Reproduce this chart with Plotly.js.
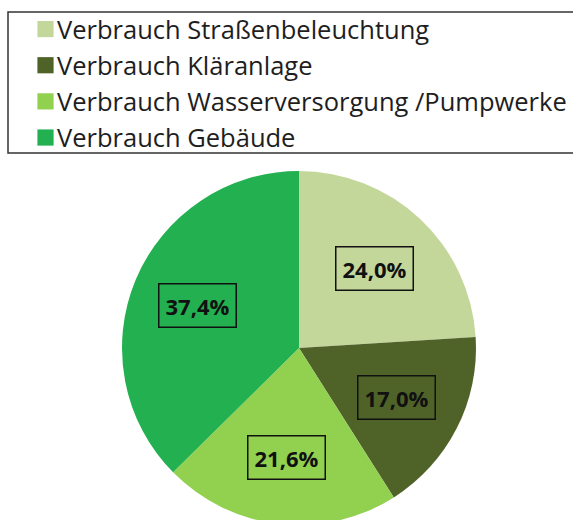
<!DOCTYPE html>
<html>
<head>
<meta charset="utf-8">
<script src="https://cdn.plot.ly/plotly-3.0.1.min.js"></script>
<style>
html,body{margin:0;padding:0;background:#fff;overflow:hidden;}
#chart{width:573px;height:530px;}
</style>
</head>
<body>
<div id="chart"></div>
<script>
// ---- data ----
const categories = [
  "Verbrauch Straßenbeleuchtung",
  "Verbrauch Kläranlage",
  "Verbrauch Wasserversorgung /Pumpwerke",
  "Verbrauch Gebäude"
];
const shares = [24.0, 17.0, 21.6, 37.4];
const sliceColors = ["#c4d79b", "#4f6228", "#92d050", "#23b050"];

// ---- geometry ----
const W = 573, H = 530;
const cx = 299, cy = 348, r = 177;
const labelRadius = 0.62;

const total = shares.reduce((a, b) => a + b, 0);
let cum = 0;
const annotations = shares.map((v) => {
  const mid = (cum + v / 2) / total * 2 * Math.PI;
  cum += v;
  const px = cx + labelRadius * r * Math.sin(mid);
  const py = cy - labelRadius * r * Math.cos(mid);
  return {
    xref: "paper", yref: "paper",
    x: px / W, y: 1 - py / H,
    xanchor: "center", yanchor: "middle",
    showarrow: false,
    text: (v / total * 100).toFixed(1).replace(".", ",") + "%",
    font: {family: "Open Sans, sans-serif", size: 22, color: "#111", weight: 700},
    bordercolor: "#111", borderwidth: 1.5, borderpad: 6
  };
});

const trace = {
  type: "pie",
  labels: categories,
  values: shares,
  sort: false,
  direction: "clockwise",
  rotation: 0,
  marker: {colors: sliceColors, line: {width: 0}},
  textinfo: "none",
  hoverinfo: "label+percent",
  domain: {x: [(cx - r) / W, (cx + r) / W], y: [(H - cy - r) / H, (H - cy + r) / H]}
};

const layout = {
  width: W, height: H,
  margin: {l: 0, r: 0, t: 0, b: 0},
  paper_bgcolor: "#fff",
  showlegend: true,
  legend: {
    x: 17 / W, y: 1 - 6 / H, xanchor: "left", yanchor: "top",
    font: {family: "Open Sans, sans-serif", size: 25.5, color: "#1e1e1e"},
    bgcolor: "rgba(0,0,0,0)", borderwidth: 0
  },
  annotations: annotations,
  shapes: [{
    type: "rect", xref: "paper", yref: "paper",
    x0: 8 / W, x1: 1.05, y0: 1 - 153 / H, y1: 1 - 12 / H,
    line: {color: "#333", width: 1.5}, fillcolor: "rgba(0,0,0,0)"
  }]
};

Plotly.newPlot("chart", [trace], layout, {displayModeBar: false, staticPlot: true}).then(() => {
  document.querySelectorAll(".legend path.legendpie").forEach((p) => {
    p.setAttribute("transform", "translate(28.5,0) scale(1.35)");
  });
});
</script>
</body>
</html>
